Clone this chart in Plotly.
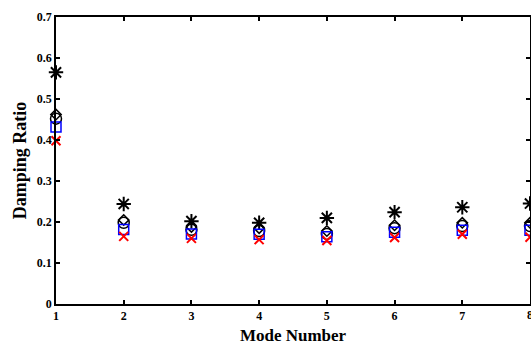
import plotly.graph_objects as go

modes = [1, 2, 3, 4, 5, 6, 7, 8]
asterisk_vals = [0.565, 0.244, 0.202, 0.198, 0.210, 0.224, 0.236, 0.245]
diamond_vals = [0.462, 0.205, 0.188, 0.185, 0.178, 0.192, 0.198, 0.198]
circle_vals = [0.452, 0.198, 0.181, 0.178, 0.171, 0.185, 0.190, 0.190]
square_vals = [0.432, 0.182, 0.171, 0.170, 0.164, 0.175, 0.180, 0.180]
x_vals = [0.398, 0.165, 0.160, 0.157, 0.155, 0.162, 0.170, 0.163]

y_ticks = [0, 0.1, 0.2, 0.3, 0.4, 0.5, 0.6, 0.7]
y_ticktext = ["0", "0.1", "0.2", "0.3", "0.4", "0.5", "0.6", "0.7"]
x_ticktext = [str(m) for m in modes]

fig = go.Figure()
series = [
    (asterisk_vals, "asterisk-open", "black", 12, 2),
    (diamond_vals, "diamond-open", "black", 8, 1.5),
    (circle_vals, "circle-open", "black", 11, 1.5),
    (square_vals, "square-open", "blue", 10, 1.5),
    (x_vals, "x-thin-open", "red", 9, 2),
]
for vals, sym, col, size, lw in series:
    fig.add_trace(go.Scatter(
        x=modes, y=vals, mode="markers", cliponaxis=False, showlegend=False,
        marker=dict(symbol=sym, size=size, color=col, line=dict(color=col, width=lw)),
    ))

tickfont = dict(family="Liberation Serif", size=12, color="black", weight="bold")
fig.update_layout(
    width=531, height=345,
    margin=dict(l=56, r=1, t=17, b=41),
    paper_bgcolor="white", plot_bgcolor="white",
    font=dict(family="Liberation Serif", color="black"),
)
# last x tick label sits on the window edge (partly cut, as in the reference)
fig.add_annotation(
    x=modes[-1], y=0, xref="x", yref="paper", text=x_ticktext[-1],
    showarrow=False, yanchor="top", yshift=-2, font=tickfont,
)
fig.update_xaxes(
    range=[1, 8], tickvals=modes[:-1], ticktext=x_ticktext[:-1],
    ticks="inside", ticklen=4, tickwidth=1.5, tickcolor="black",
    showline=True, linecolor="black", linewidth=1.5, mirror="ticks",
    showgrid=False, zeroline=False, automargin=False,
    tickfont=tickfont,
    title=dict(text="<b>Mode Number</b>", font=dict(family="Liberation Serif", size=17, color="black"), standoff=8),
)
fig.update_yaxes(
    range=[0, 0.7], tickvals=y_ticks, ticktext=y_ticktext,
    ticks="inside", ticklen=4, tickwidth=1.5, tickcolor="black",
    showline=True, linecolor="black", linewidth=1.5, mirror="ticks",
    showgrid=False, zeroline=False, automargin=False,
    tickfont=tickfont,
    title=dict(text="<b>Damping Ratio</b>", font=dict(family="Liberation Serif", size=18, color="black"), standoff=6),
)
fig.write_html(
    "out.html",
    config={"displayModeBar": False},
    post_script="document.body.style.margin='0';document.body.style.overflow='hidden';",
)
